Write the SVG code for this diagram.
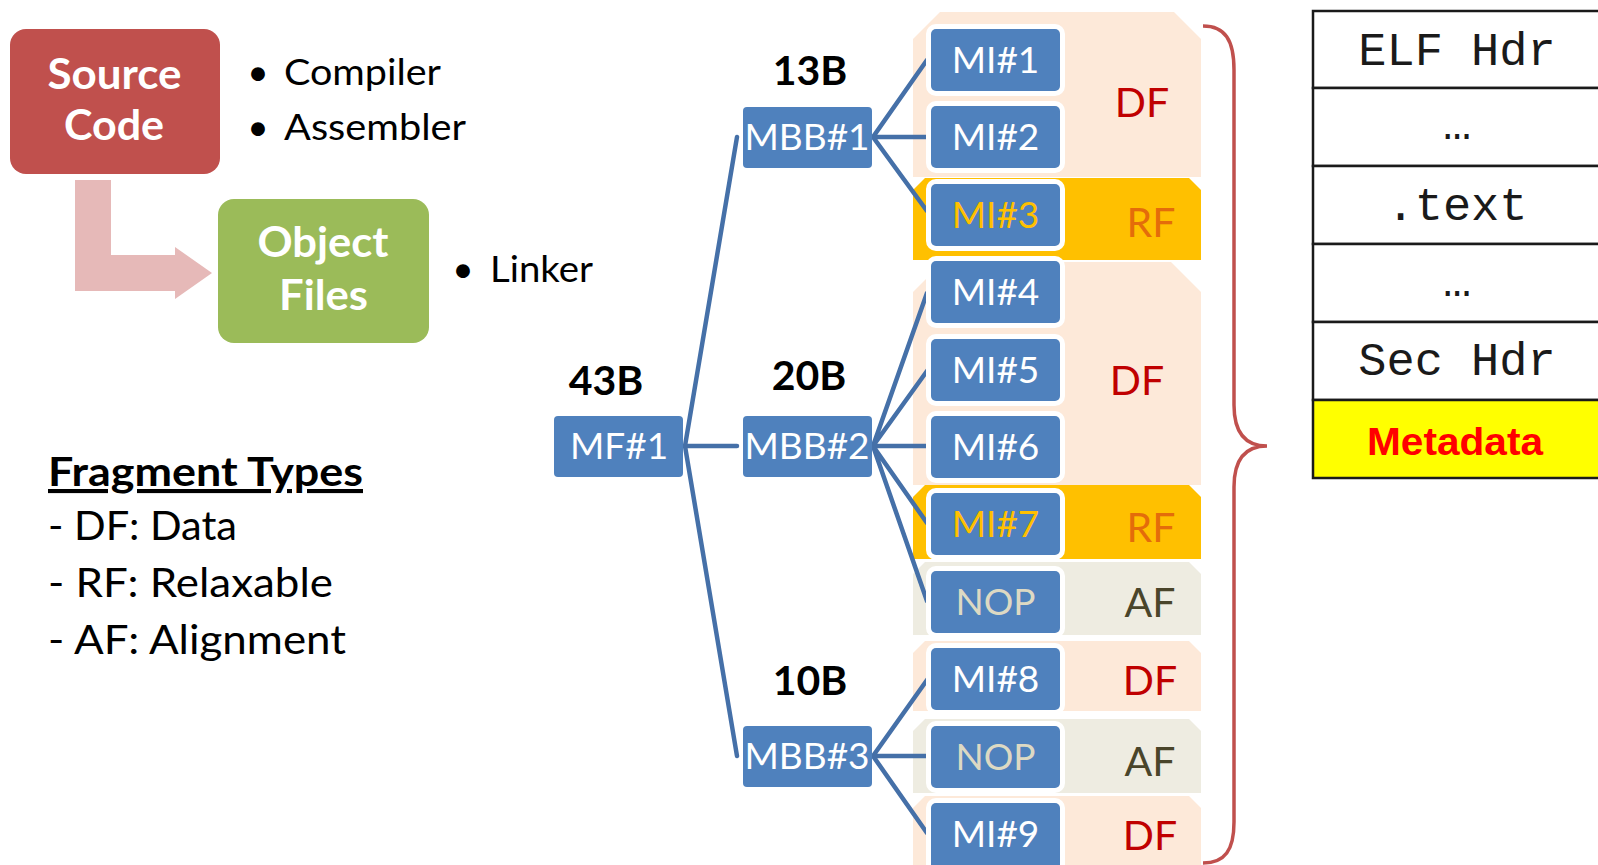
<svg xmlns="http://www.w3.org/2000/svg" width="1598" height="865" viewBox="0 0 1598 865">
  <style>
    .sans { font-family: Lato, "Open Sans", "Liberation Sans", sans-serif; }
    .bold { font-weight: 700; }
    .mono { font-family: "Liberation Mono", "DejaVu Sans Mono", monospace; font-size: 47px; fill: #1a1a1a; }
    .bul { font-size: 37px; fill: #000; }
    .legend { font-size: 41px; fill: #000; }
    .size { font-size: 41px; font-weight: 700; fill: #000; text-anchor: middle; }
    .node { fill: #4F81BD; }
    .lbl { font-size: 37px; fill: #fff; text-anchor: middle; }
    .mi { fill: #4F81BD; stroke: #fff; stroke-width: 10; paint-order: stroke; }
    .df { fill: #FDE9D9; }
    .rf { fill: #FFC000; }
    .af { fill: #EEECE1; }
    .ftxt { font-size: 41px; text-anchor: middle; }
    .conn { stroke: #4570A8; stroke-width: 4.5; fill: none; stroke-linecap: round; }
    .cell { fill: #fff; stroke: #1a1a1a; stroke-width: 2.5; }
  </style>

  <!-- Toolchain flow -->
  <g id="source-code">
    <rect x="10" y="29" width="210" height="145" rx="16" fill="#C0504D"/>
    <text class="sans bold" x="114.5" y="89" font-size="42" fill="#fff" text-anchor="middle" textLength="134" lengthAdjust="spacingAndGlyphs">Source</text>
    <text class="sans bold" x="114" y="140" font-size="42" fill="#fff" text-anchor="middle" textLength="100" lengthAdjust="spacingAndGlyphs">Code</text>
  </g>
  <g id="flow-arrow">
    <path d="M75,180 H111 V255 H175 V247 L212,273 L175,299 V291 H75 Z" fill="#E6B9B8"/>
  </g>
  <g id="object-files">
    <rect x="218" y="199" width="211" height="144" rx="16" fill="#9BBB59"/>
    <text class="sans bold" x="323" y="257" font-size="42" fill="#fff" text-anchor="middle" textLength="131" lengthAdjust="spacingAndGlyphs">Object</text>
    <text class="sans bold" x="323.5" y="310" font-size="42" fill="#fff" text-anchor="middle" textLength="89" lengthAdjust="spacingAndGlyphs">Files</text>
  </g>
  <g id="tools">
    <text class="sans bul" x="258" y="85" text-anchor="middle">•</text>
    <text class="sans bul" x="284" y="85" textLength="157" lengthAdjust="spacingAndGlyphs">Compiler</text>
    <text class="sans bul" x="258" y="140" text-anchor="middle">•</text>
    <text class="sans bul" x="284" y="140" textLength="182" lengthAdjust="spacingAndGlyphs">Assembler</text>
    <text class="sans bul" x="463" y="282" text-anchor="middle">•</text>
    <text class="sans bul" x="490" y="282" textLength="103" lengthAdjust="spacingAndGlyphs">Linker</text>
  </g>

  <!-- Legend -->
  <g id="legend">
    <text class="sans bold legend" x="48" y="486" text-decoration="underline" textLength="315" lengthAdjust="spacingAndGlyphs">Fragment Types</text>
    <text class="sans legend" x="48" y="540" textLength="189" lengthAdjust="spacingAndGlyphs">- DF: Data</text>
    <text class="sans legend" x="48" y="597" textLength="285" lengthAdjust="spacingAndGlyphs">- RF: Relaxable</text>
    <text class="sans legend" x="48" y="654" textLength="298" lengthAdjust="spacingAndGlyphs">- AF: Alignment</text>
  </g>

  <!-- Fragment backgrounds -->
  <g id="fragments">
    <path class="df" d="M913,39 L940,12 L1174,12 L1201,39 L1201,177 L913,177 Z"/>
    <path class="rf" d="M913,190 L925,178 L1189,178 L1201,190 L1201,260 L913,260 Z"/>
    <path class="df" d="M913,292 L943,262 L1171,262 L1201,292 L1201,485 L913,485 Z"/>
    <path class="rf" d="M913,497 L925,485 L1189,485 L1201,497 L1201,559 L913,559 Z"/>
    <path class="af" d="M913,574 L925,562 L1189,562 L1201,574 L1201,635 L913,635 Z"/>
    <path class="df" d="M913,653 L925,641 L1189,641 L1201,653 L1201,711 L913,711 Z"/>
    <path class="af" d="M913,731 L925,719 L1189,719 L1201,731 L1201,793 L913,793 Z"/>
    <path class="df" d="M913,808 L925,796 L1189,796 L1201,808 L1201,880 L913,880 Z"/>
    <text class="sans ftxt" x="1142" y="117" fill="#C00000">DF</text>
    <text class="sans ftxt" x="1151" y="237" fill="#E46C0A">RF</text>
    <text class="sans ftxt" x="1137" y="395" fill="#C00000">DF</text>
    <text class="sans ftxt" x="1151" y="542" fill="#E46C0A">RF</text>
    <text class="sans ftxt" x="1150" y="617" fill="#4A452A">AF</text>
    <text class="sans ftxt" x="1150" y="695" fill="#C00000">DF</text>
    <text class="sans ftxt" x="1150" y="776" fill="#4A452A">AF</text>
    <text class="sans ftxt" x="1150" y="850" fill="#C00000">DF</text>
  </g>

  <!-- Tree connectors -->
  <g id="connectors" class="conn">
    <path d="M737,137 L685,446 L737,756 M685,446 H737"/>
    <path d="M927,60 L873,137 L927,211 M873,137 H927"/>
    <path d="M927,293 L873,446 L927,371 M873,446 H927 M927,523 L873,446 L927,601"/>
    <path d="M927,680 L873,756 L927,833 M873,756 H927"/>
  </g>

  <!-- Function and basic blocks -->
  <g id="mf1">
    <text class="sans size" x="606" y="395">43B</text>
    <rect class="node" x="554" y="416" width="129" height="61" rx="4"/>
    <text class="sans lbl" x="619" y="459">MF#1</text>
  </g>
  <g id="mbb1">
    <text class="sans size" x="810" y="85">13B</text>
    <rect class="node" x="743" y="107" width="129" height="61" rx="4"/>
    <text class="sans lbl" x="807" y="150">MBB#1</text>
  </g>
  <g id="mbb2">
    <text class="sans size" x="809" y="390">20B</text>
    <rect class="node" x="743" y="416" width="129" height="61" rx="4"/>
    <text class="sans lbl" x="807" y="459">MBB#2</text>
  </g>
  <g id="mbb3">
    <text class="sans size" x="810" y="695">10B</text>
    <rect class="node" x="743" y="726" width="129" height="61" rx="4"/>
    <text class="sans lbl" x="807" y="769">MBB#3</text>
  </g>

  <!-- Machine instructions -->
  <g id="mi1"><rect class="mi" x="931" y="29" width="129" height="62" rx="5"/><text class="sans lbl" x="995.5" y="73">MI#1</text></g>
  <g id="mi2"><rect class="mi" x="931" y="106" width="129" height="62" rx="5"/><text class="sans lbl" x="995.5" y="150">MI#2</text></g>
  <g id="mi3"><rect class="mi" x="931" y="184" width="129" height="62" rx="5"/><text class="sans lbl" x="995.5" y="228" style="fill:#FFC000">MI#3</text></g>
  <g id="mi4"><rect class="mi" x="931" y="261" width="129" height="62" rx="5"/><text class="sans lbl" x="995.5" y="305">MI#4</text></g>
  <g id="mi5"><rect class="mi" x="931" y="339" width="129" height="62" rx="5"/><text class="sans lbl" x="995.5" y="383">MI#5</text></g>
  <g id="mi6"><rect class="mi" x="931" y="416" width="129" height="62" rx="5"/><text class="sans lbl" x="995.5" y="460">MI#6</text></g>
  <g id="mi7"><rect class="mi" x="931" y="493" width="129" height="62" rx="5"/><text class="sans lbl" x="995.5" y="537" style="fill:#FFC000">MI#7</text></g>
  <g id="nop1"><rect class="mi" x="931" y="571" width="129" height="62" rx="5"/><text class="sans lbl" x="995.5" y="615" style="fill:#DDD9C3">NOP</text></g>
  <g id="mi8"><rect class="mi" x="931" y="648" width="129" height="62" rx="5"/><text class="sans lbl" x="995.5" y="692">MI#8</text></g>
  <g id="nop2"><rect class="mi" x="931" y="726" width="129" height="62" rx="5"/><text class="sans lbl" x="995.5" y="770" style="fill:#DDD9C3">NOP</text></g>
  <g id="mi9"><rect class="mi" x="931" y="803" width="129" height="70" rx="5"/><text class="sans lbl" x="995.5" y="847">MI#9</text></g>

  <!-- Brace grouping the fragments -->
  <g id="brace">
    <path d="M1203,26 C1225,26 1234,40 1234,70 L1234,405 C1234,432 1245,446 1267,446 C1245,446 1234,460 1234,487 L1234,822 C1234,850 1225,863 1203,863" fill="none" stroke="#C0504D" stroke-width="3.5"/>
  </g>

  <!-- ELF object layout -->
  <g id="elf-table">
    <rect class="cell" x="1313" y="11" width="300" height="77"/>
    <rect class="cell" x="1313" y="88" width="300" height="78"/>
    <rect class="cell" x="1313" y="166" width="300" height="78"/>
    <rect class="cell" x="1313" y="244" width="300" height="78"/>
    <rect class="cell" x="1313" y="322" width="300" height="78"/>
    <rect class="cell" x="1313" y="400" width="300" height="78" style="fill:#FFFF00"/>
    <text class="mono" x="1457" y="65" text-anchor="middle">ELF Hdr</text>
    <text class="mono" x="1457" y="139" text-anchor="middle">…</text>
    <text class="mono" x="1457" y="220" text-anchor="middle">.text</text>
    <text class="mono" x="1457" y="296" text-anchor="middle">…</text>
    <text class="mono" x="1457" y="375" text-anchor="middle">Sec Hdr</text>
    <text x="1455" y="455" text-anchor="middle" font-family="'Liberation Sans', Arial, sans-serif" font-weight="700" font-size="38" fill="#FF0000" textLength="176" lengthAdjust="spacingAndGlyphs">Metadata</text>
  </g>
</svg>
